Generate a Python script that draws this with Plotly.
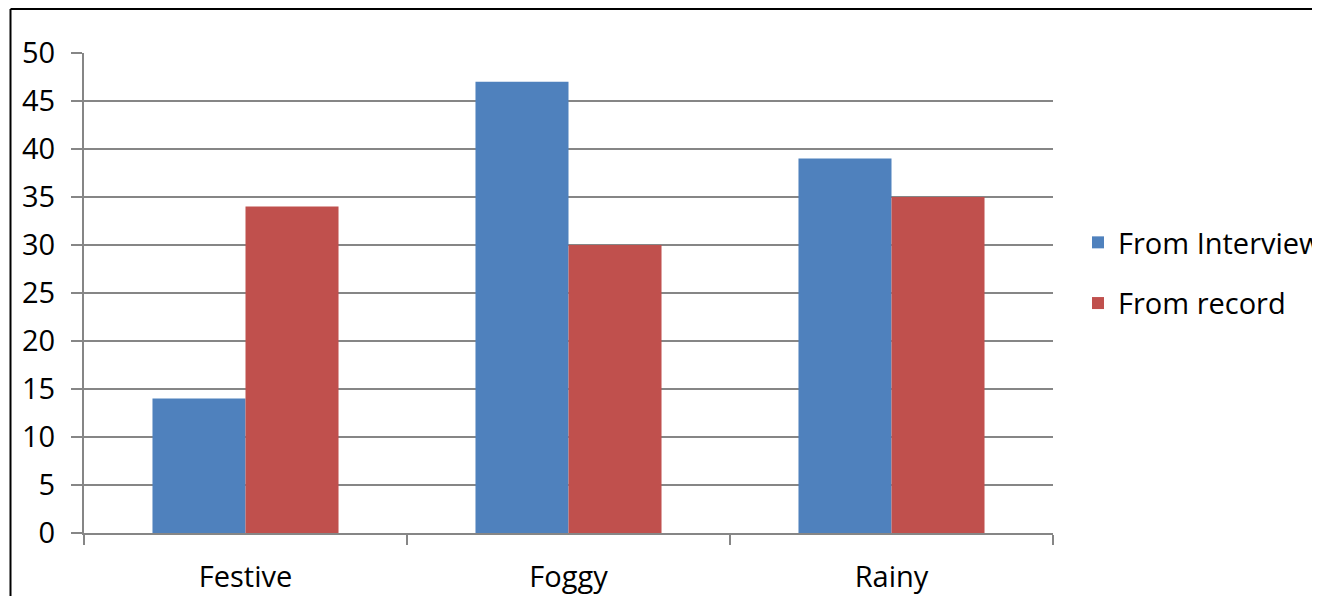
import plotly.graph_objects as go

categories = ["Festive", "Foggy", "Rainy"]
from_interview = [14, 47, 39]
from_record = [34, 30, 35]
y_ticks = [0, 5, 10, 15, 20, 25, 30, 35, 40, 45, 50]

# page has an 8px body margin; figure coords = page coords - 8
OFF = 8
W, H = 1320 - OFF, 596 - OFF
L, R, T, B = 84 - OFF, 1053 - OFF, 53 - OFF, 533 - OFF
font_family = "Open Sans"
fs = 29
grid = "#868686"

fig = go.Figure()
fig.add_trace(go.Bar(name="From Interview", x=categories, y=from_interview, legendgroup="a",
                     marker=dict(color="#4F81BD", line=dict(width=0))))
fig.add_trace(go.Bar(name="From record", x=categories, y=from_record, legendgroup="b",
                     marker=dict(color="#C0504D", line=dict(width=0))))

pw, ph = R - L, B - T
bx = (10.5 - OFF - L) / pw
by = (B - (9 - OFF)) / ph
fig.add_shape(type="line", xref="paper", yref="paper",
              x0=bx, x1=bx, y0=by, y1=(B - 700) / ph,
              line=dict(color="black", width=2), layer="above")
fig.add_shape(type="line", xref="paper", yref="paper",
              x0=bx, x1=(1400 - L) / pw, y0=by, y1=by,
              line=dict(color="black", width=2), layer="above")

fig.update_layout(
    width=W, height=H,
    margin=dict(l=L, r=W - R, t=T, b=H - B, pad=0, autoexpand=False),
    paper_bgcolor="white", plot_bgcolor="white",
    barmode="group", bargap=0.424, bargroupgap=0,
    font=dict(family=font_family, size=fs, color="black"),
    showlegend=True,
    legend=dict(x=(1078 - OFF - L) / pw, y=(B - (217 - OFF)) / ph, xanchor="left", yanchor="top",
                font=dict(size=fs), tracegroupgap=20, itemwidth=30,
                bgcolor="rgba(0,0,0,0)"),
    xaxis=dict(showline=True, linecolor=grid, linewidth=2, automargin=False,
               ticks="outside", tickson="boundaries", ticklen=10, tickwidth=2, tickcolor=grid,
               showgrid=False, ticklabelstandoff=17, tickfont=dict(size=fs)),
    yaxis=dict(range=[0, 50], tickvals=y_ticks, showline=True, linecolor=grid, linewidth=2,
               automargin=False,
               ticks="outside", ticklen=11, tickwidth=2, tickcolor=grid,
               showgrid=True, gridcolor=grid, gridwidth=2, zeroline=False,
               ticklabelstandoff=10, tickfont=dict(size=fs)),
)

fig.write_html("out.html")
